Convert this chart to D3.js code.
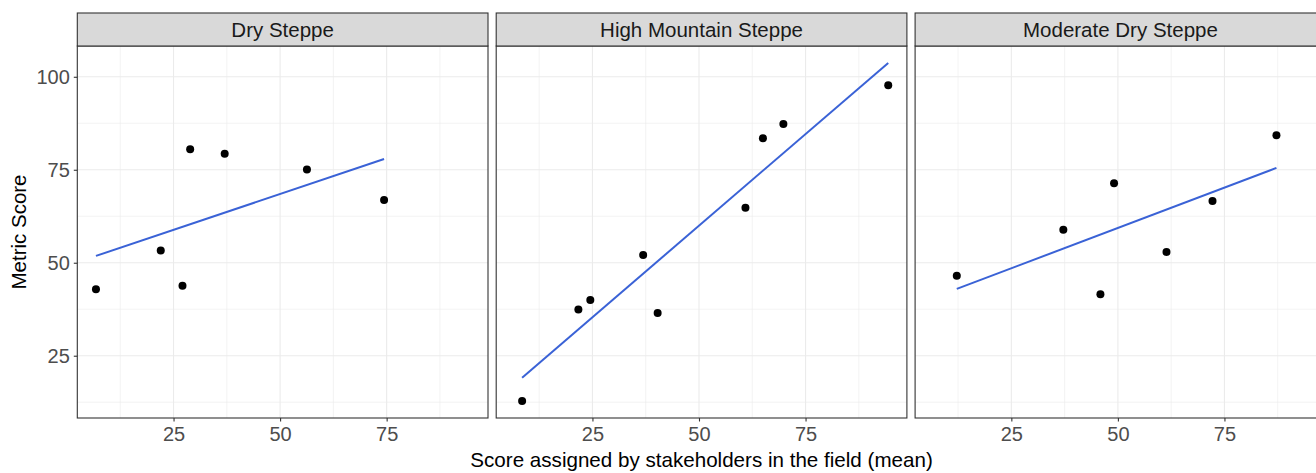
<!DOCTYPE html>
<html>
<head>
<meta charset="utf-8">
<script src="https://cdn.jsdelivr.net/npm/d3@7"></script>
<style>
  html, body { margin: 0; padding: 0; background: #fff; overflow: hidden; }
  svg { display: block; font-family: "Liberation Sans", Arial, sans-serif; }
</style>
</head>
<body>
<svg id="chart" width="1316" height="473"></svg>
<script>
// ---- data ----
const facets = ["Dry Steppe", "High Mountain Steppe", "Moderate Dry Steppe"];
const dryX  = [6.8, 22.0, 27.1, 28.9, 37.0, 56.3, 74.4];
const dryY  = [42.9, 53.3, 43.8, 80.5, 79.3, 75.1, 66.9];
const highX = [8.5, 21.7, 24.5, 36.9, 40.3, 60.9, 65.0, 69.8, 94.4];
const highY = [12.8, 37.4, 40.0, 52.1, 36.5, 64.8, 83.5, 87.3, 97.7];
const modX  = [12.2, 37.2, 45.9, 49.1, 61.4, 72.2, 87.2];
const modY  = [46.5, 58.9, 41.5, 71.4, 52.9, 66.6, 84.3];
const xTicks = [25, 50, 75];
const yTicks = [25, 50, 75, 100];
const xMinor = [12.5, 37.5, 62.5, 87.5];
const yMinor = [12.5, 37.5, 62.5, 87.5];
const xTitle = "Score assigned by stakeholders in the field (mean)";
const yTitle = "Metric Score";

const seriesX = [dryX, highX, modX];
const seriesY = [dryY, highY, modY];

// ---- linear fits (geom_smooth method = "lm") ----
function lm(xs, ys) {
  const mx = d3.mean(xs), my = d3.mean(ys);
  let sxy = 0, sxx = 0;
  xs.forEach((x, i) => { sxy += (x - mx) * (ys[i] - my); sxx += (x - mx) * (x - mx); });
  const b = sxy / sxx, a = my - b * mx;
  const x0 = d3.min(xs), x1 = d3.max(xs);
  return [[x0, a + b * x0], [x1, a + b * x1]];
}
const fits = facets.map((f, i) => lm(seriesX[i], seriesY[i]));

// ---- layout ----
const svg = d3.select("#chart");
const panelW = 410.7, gap = 8.2, left0 = 77.3;
const stripTop = 13, stripH = 33, panelTop = stripTop + stripH, panelBottom = 418;

function expand(ext) { const r = ext[1] - ext[0]; return [ext[0] - 0.05 * r, ext[1] + 0.05 * r]; }
const allX = [].concat(...seriesX);
const allY = [].concat(...seriesY, ...fits.map(f => [f[0][1], f[1][1]]));
const xDom = expand(d3.extent(allX));
const yDom = expand(d3.extent(allY));

const y = d3.scaleLinear().domain(yDom).range([panelBottom, panelTop]);

facets.forEach((name, i) => {
  const px = left0 + i * (panelW + gap);
  const x = d3.scaleLinear().domain(xDom).range([px, px + panelW]);
  const g = svg.append("g");

  g.append("rect").attr("x", px).attr("y", panelTop).attr("width", panelW)
    .attr("height", panelBottom - panelTop).attr("fill", "#fff");

  // minor grid
  g.selectAll(".xmin").data(xMinor).join("line")
    .attr("x1", d => x(d)).attr("x2", d => x(d)).attr("y1", panelTop).attr("y2", panelBottom)
    .attr("stroke", "#EBEBEB").attr("stroke-width", 0.6);
  g.selectAll(".ymin").data(yMinor).join("line")
    .attr("x1", px).attr("x2", px + panelW).attr("y1", d => y(d)).attr("y2", d => y(d))
    .attr("stroke", "#EBEBEB").attr("stroke-width", 0.6);
  // major grid
  g.selectAll(".xmaj").data(xTicks).join("line")
    .attr("x1", d => x(d)).attr("x2", d => x(d)).attr("y1", panelTop).attr("y2", panelBottom)
    .attr("stroke", "#EBEBEB").attr("stroke-width", 1.1);
  g.selectAll(".ymaj").data(yTicks).join("line")
    .attr("x1", px).attr("x2", px + panelW).attr("y1", d => y(d)).attr("y2", d => y(d))
    .attr("stroke", "#EBEBEB").attr("stroke-width", 1.1);

  // fit line
  g.append("path").datum(fits[i])
    .attr("d", d3.line().x(d => x(d[0])).y(d => y(d[1])))
    .attr("fill", "none").attr("stroke", "#3A62D6").attr("stroke-width", 2);

  // points
  g.selectAll("circle").data(seriesX[i].map((v, k) => [v, seriesY[i][k]])).join("circle")
    .attr("cx", d => x(d[0])).attr("cy", d => y(d[1])).attr("r", 4).attr("fill", "#000");

  // panel border
  g.append("rect").attr("x", px).attr("y", panelTop).attr("width", panelW)
    .attr("height", panelBottom - panelTop).attr("fill", "none")
    .attr("stroke", "#333333").attr("stroke-width", 1.1);

  // strip
  g.append("rect").attr("x", px).attr("y", stripTop).attr("width", panelW).attr("height", stripH)
    .attr("fill", "#D9D9D9").attr("stroke", "#333333").attr("stroke-width", 1.1);
  g.append("text").attr("x", px + panelW / 2).attr("y", stripTop + stripH / 2 + 7)
    .attr("text-anchor", "middle").attr("font-size", 20.5).attr("fill", "#1A1A1A").text(name);

  // x axis
  const xa = g.append("g").attr("transform", `translate(0,${panelBottom})`)
    .call(d3.axisBottom(x).tickValues(xTicks).tickSize(3.5).tickPadding(5).tickFormat(d3.format("d")));
  xa.select(".domain").remove();
  xa.selectAll(".tick line").attr("stroke", "#333333").attr("stroke-width", 1.1);
  xa.selectAll(".tick text").attr("font-size", 20).attr("fill", "#4D4D4D")
    .attr("font-family", "Liberation Sans, Arial, sans-serif");

  if (i === 0) {
    const ya = g.append("g").attr("transform", `translate(${px},0)`)
      .call(d3.axisLeft(y).tickValues(yTicks).tickSize(3.5).tickPadding(4).tickFormat(d3.format("d")));
    ya.select(".domain").remove();
    ya.selectAll(".tick line").attr("stroke", "#333333").attr("stroke-width", 1.1);
    ya.selectAll(".tick text").attr("font-size", 20).attr("fill", "#4D4D4D")
      .attr("font-family", "Liberation Sans, Arial, sans-serif");
  }
});

// axis titles
const plotLeft = left0, plotRight = left0 + 3 * panelW + 2 * gap;
svg.append("text").attr("x", (plotLeft + plotRight) / 2).attr("y", 467)
  .attr("text-anchor", "middle").attr("font-size", 20.6).attr("fill", "#000").text(xTitle);
svg.append("text")
  .attr("transform", `translate(26,${(panelTop + panelBottom) / 2}) rotate(-90)`)
  .attr("text-anchor", "middle").attr("font-size", 20.5).attr("fill", "#000").text(yTitle);
</script>
</body>
</html>
